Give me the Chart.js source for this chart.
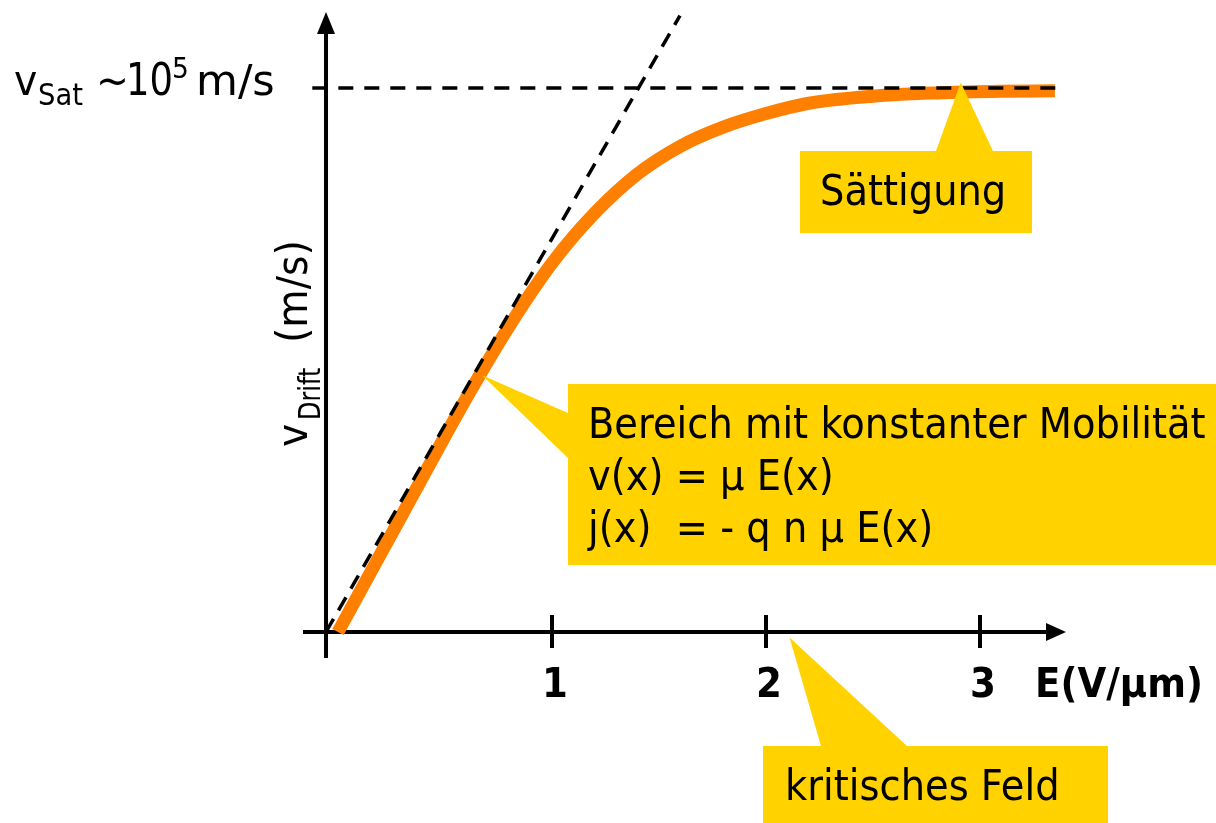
<!DOCTYPE html>
<html>
<head>
<meta charset="utf-8">
<script src="https://cdn.jsdelivr.net/npm/chart.js@4"></script>
<style>
  html, body { margin: 0; padding: 0; background: #fff; overflow: hidden; }
  #wrap { width: 1216px; height: 823px; position: relative; }
</style>
</head>
<body>
<div id="wrap"><canvas id="driftChart"></canvas></div>
<script>
// E-Feld (V/µm) und Driftgeschwindigkeit (in Einheiten von vSat)
const feldWerte  = [0, 0.2, 0.4, 0.6, 0.8, 1.0, 1.2, 1.4, 1.6, 1.8, 2.0, 2.2, 2.5, 2.8, 3.1, 3.35];
const driftWerte = [0, 0.144, 0.288, 0.43, 0.562, 0.678, 0.77, 0.842, 0.893, 0.928, 0.953, 0.972, 0.985, 0.991, 0.994, 0.995];

// Gerade fuer konstante Mobilitaet (Tangente im Ursprung)
const tangenteX = [-0.056, 1.598];
const tangenteY = [0, 1.133];

// Saettigungsgeschwindigkeit
const saettigungX = [-0.12, 3.37];
const saettigungY = [1, 1];

// Achsenbeschriftung
const xTicks = [1, 2, 3];
const xTickLabels = ['1', '2', '3'];
const yAchseBei = -0.056;

const GELB = '#FFD200';
const SCHRIFT = '"DejaVu Sans", Verdana, sans-serif';

function punkte(xs, ys) {
    return xs.map((x, i) => ({ x: x, y: ys[i] }));
}

// Text leicht schmaler zeichnen (Tahoma-Anmutung)
function text(ctx, str, x, y, size, opts) {
    opts = opts || {};
    ctx.save();
    ctx.translate(x, y);
    if (opts.rot) ctx.rotate(opts.rot);
    if (opts.dx || opts.dy) ctx.translate(opts.dx || 0, opts.dy || 0);
    ctx.scale(opts.sx || 0.915, 1);
    ctx.font = (opts.bold ? 'bold ' : '') + size + 'px ' + SCHRIFT;
    ctx.fillStyle = '#000';
    ctx.textAlign = opts.align || 'left';
    ctx.textBaseline = 'alphabetic';
    ctx.fillText(str, 0, 0);
    ctx.restore();
}

function sprechblase(ctx, box, spitze, basis) {
    ctx.save();
    ctx.fillStyle = GELB;
    ctx.fillRect(box[0], box[1], box[2] - box[0], box[3] - box[1]);
    ctx.beginPath();
    ctx.moveTo(spitze[0], spitze[1]);
    ctx.lineTo(basis[0][0], basis[0][1]);
    ctx.lineTo(basis[1][0], basis[1][1]);
    ctx.closePath();
    ctx.fill();
    ctx.restore();
}

const skizzePlugin = {
    id: 'skizze',
    beforeDatasetsDraw(chart) {
        const ctx = chart.ctx;
        const xs = chart.scales.x;
        const ys = chart.scales.y;
        const x0 = xs.getPixelForValue(yAchseBei);
        const y0 = ys.getPixelForValue(0);

        ctx.save();
        ctx.strokeStyle = '#000';
        ctx.fillStyle = '#000';
        ctx.lineWidth = 4;

        // y-Achse mit Pfeil
        ctx.beginPath();
        ctx.moveTo(x0, 658);
        ctx.lineTo(x0, 30);
        ctx.stroke();
        ctx.beginPath();
        ctx.moveTo(x0, 12);
        ctx.lineTo(x0 - 9, 34);
        ctx.lineTo(x0 + 9, 34);
        ctx.closePath();
        ctx.fill();

        // x-Achse mit Pfeil
        ctx.beginPath();
        ctx.moveTo(303, y0);
        ctx.lineTo(1050, y0);
        ctx.stroke();
        ctx.beginPath();
        ctx.moveTo(1066, y0);
        ctx.lineTo(1046, y0 - 9);
        ctx.lineTo(1046, y0 + 9);
        ctx.closePath();
        ctx.fill();

        // Ticks
        xTicks.forEach((t, i) => {
            const px = xs.getPixelForValue(t);
            ctx.beginPath();
            ctx.moveTo(px, y0 - 17);
            ctx.lineTo(px, y0 + 16);
            ctx.stroke();
            text(ctx, xTickLabels[i], px + 3, 697, 40, { bold: true, align: 'center', sx: 0.93 });
        });
        ctx.restore();

        text(ctx, 'E(V/µm)', 1035, 697, 40, { bold: true, sx: 0.93 });

        // vSat ~10^5 m/s
        text(ctx, 'v', 14, 95, 43);
        text(ctx, 'Sat', 38, 105, 30);
        text(ctx, '~', 96, 95, 43);
        text(ctx, '10', 126, 95, 44, { sx: 0.84 });
        text(ctx, '5', 172, 78, 29);
        text(ctx, 'm/s', 196, 95, 43, { sx: 1.0 });

        // y-Achsentitel (gedreht)
        const rot = -Math.PI / 2;
        text(ctx, 'v', 307, 447, 43, { rot: rot });
        text(ctx, 'Drift', 307, 447, 30, { rot: rot, dx: 27, dy: 13, sx: 0.8 });
        text(ctx, '(m/s)', 307, 447, 43, { rot: rot, dx: 104 });
    },
    afterDatasetsDraw(chart) {
        const ctx = chart.ctx;
        const xs = chart.scales.x;
        const ys = chart.scales.y;

        // Bereich mit konstanter Mobilitaet
        sprechblase(ctx, [568, 384, 1216, 565],
            [xs.getPixelForValue(0.673), ys.getPixelForValue(0.472)],
            [[568, 413], [568, 458]]);
        text(ctx, 'Bereich mit konstanter Mobilität', 588, 438, 42);
        text(ctx, 'v(x) = µ E(x)', 588, 490, 42);
        text(ctx, 'j(x)  = - q n µ E(x)', 588, 542, 42);

        // Saettigung
        sprechblase(ctx, [800, 151, 1032, 233],
            [xs.getPixelForValue(2.91), ys.getPixelForValue(1.01)],
            [[936, 151], [993, 151]]);
        text(ctx, 'Sättigung', 820, 205, 42);

        // kritisches Feld
        sprechblase(ctx, [763, 746, 1108, 823],
            [xs.getPixelForValue(2.11), ys.getPixelForValue(-0.01)],
            [[821, 746], [907, 746]]);
        text(ctx, 'kritisches Feld', 785, 800, 42);
    }
};

const ctx = document.getElementById('driftChart').getContext('2d');
const driftChart = new Chart(ctx, {
    type: 'line',
    data: {
        datasets: [
            {
                label: 'Tangente',
                data: punkte(tangenteX, tangenteY),
                borderColor: '#000',
                borderWidth: 3.5,
                borderDash: [15, 10],
                borderCapStyle: 'butt',
                pointRadius: 0,
                order: 0
            },
            {
                label: 'vSat',
                data: punkte(saettigungX, saettigungY),
                borderColor: '#000',
                borderWidth: 3.5,
                borderDash: [15, 11],
                borderCapStyle: 'butt',
                pointRadius: 0,
                order: 0
            },
            {
                label: 'vDrift',
                data: punkte(feldWerte, driftWerte),
                borderColor: '#FF7F00',
                borderWidth: 13,
                borderCapStyle: 'butt',
                borderJoinStyle: 'round',
                cubicInterpolationMode: 'monotone',
                pointRadius: 0,
                order: 1
            }
        ]
    },
    options: {
        responsive: true,
        maintainAspectRatio: false,
        animation: false,
        devicePixelRatio: 1,
        events: [],
        layout: { padding: { left: 124, right: 22, top: 0.96, bottom: 55 } },
        plugins: { legend: { display: false }, tooltip: { enabled: false } },
        scales: {
            x: { type: 'linear', min: -1, max: 4, display: false },
            y: { type: 'linear', min: -0.25, max: 1.16, display: false }
        }
    },
    plugins: [skizzePlugin]
});
</script>
</body>
</html>
